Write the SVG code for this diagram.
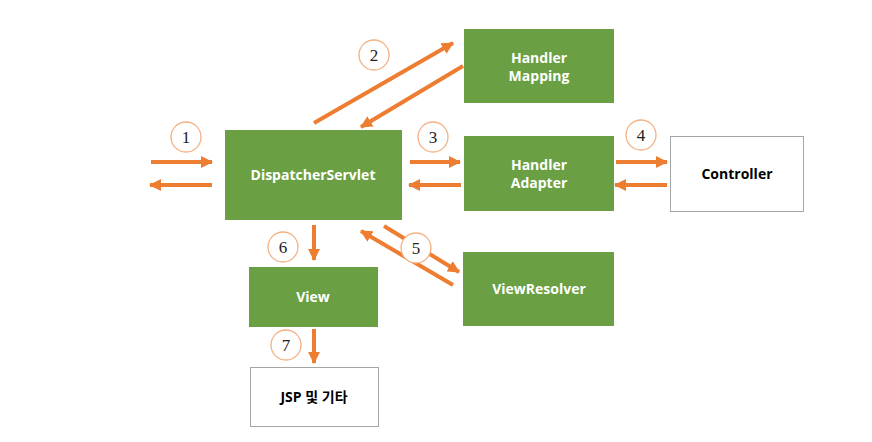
<svg xmlns="http://www.w3.org/2000/svg" width="872" height="442" viewBox="0 0 872 442">
<style>
.g{fill:#6AA043;}
.w{fill:#fff;stroke:#A6A6A6;stroke-width:1;}
.tl{font-family:"Open Sans","Noto Sans CJK KR",sans-serif;font-weight:bold;font-size:14px;fill:#fff;text-anchor:middle;}
.tb{font-family:"Open Sans","Noto Sans CJK KR",sans-serif;font-weight:bold;font-size:14px;fill:#000;text-anchor:middle;}
.c{fill:#fff;stroke:#F4B183;stroke-width:1.3;}
.n{font-family:"Liberation Serif",serif;font-size:17px;fill:#222;text-anchor:middle;}
.a{stroke:#ED7D31;stroke-width:4;fill:none;marker-end:url(#ah);}
</style>
<defs>
<marker id="ah" markerUnits="userSpaceOnUse" markerWidth="12" markerHeight="12" viewBox="0 0 12 12" refX="11" refY="6" orient="auto">
<path d="M0,0 L12,6 L0,12 Z" fill="#ED7D31"/>
</marker>
</defs>
<g id="connectors">
<line class="a" x1="151" y1="162" x2="212" y2="162"/>
<line class="a" x1="212" y1="185" x2="150" y2="185"/>
<line class="a" x1="314" y1="123" x2="453" y2="43"/>
<line class="a" x1="463" y1="66" x2="361" y2="127"/>
<line class="a" x1="410" y1="162" x2="460" y2="162"/>
<line class="a" x1="461" y1="185" x2="409" y2="185"/>
<line class="a" x1="616" y1="162" x2="667" y2="162"/>
<line class="a" x1="667" y1="185" x2="615" y2="185"/>
<line class="a" x1="384" y1="226" x2="459" y2="272"/>
<line class="a" x1="453" y1="285" x2="361" y2="231"/>
<line class="a" x1="314" y1="225" x2="314" y2="260"/>
<line class="a" x1="314" y1="329" x2="314" y2="363"/>
</g>
<g id="label1"><circle class="c" cx="186" cy="137" r="15"/><text class="n" x="186" y="143">1</text></g>
<g id="label2"><circle class="c" cx="374" cy="55" r="15"/><text class="n" x="374" y="61">2</text></g>
<g id="label3"><circle class="c" cx="433" cy="137" r="15"/><text class="n" x="433" y="143">3</text></g>
<g id="label4"><circle class="c" cx="641" cy="135" r="15"/><text class="n" x="641" y="141">4</text></g>
<g id="label5"><circle class="c" cx="416" cy="248" r="15"/><text class="n" x="416" y="254">5</text></g>
<g id="label6"><circle class="c" cx="283" cy="247" r="15"/><text class="n" x="283" y="253">6</text></g>
<g id="label7"><circle class="c" cx="286" cy="345" r="15"/><text class="n" x="286" y="351">7</text></g>
<g id="dispatcher"><rect class="g" x="225" y="130" width="177" height="90"/><text class="tl" x="313" y="180">DispatcherServlet</text></g>
<g id="handlerMapping"><rect class="g" x="464" y="29" width="150" height="74"/><text class="tl" x="539" y="63">Handler</text><text class="tl" x="539" y="81">Mapping</text></g>
<g id="handlerAdapter"><rect class="g" x="464" y="136" width="150" height="75"/><text class="tl" x="539" y="170">Handler</text><text class="tl" x="539" y="188">Adapter</text></g>
<g id="controller"><rect class="w" x="670.5" y="136.5" width="133" height="75"/><text class="tb" x="737" y="179">Controller</text></g>
<g id="view"><rect class="g" x="249" y="267" width="129" height="60"/><text class="tl" x="313" y="302">View</text></g>
<g id="viewResolver"><rect class="g" x="463" y="252" width="151" height="74"/><text class="tl" x="539" y="294">ViewResolver</text></g>
<g id="jsp"><rect class="w" x="250.5" y="367.5" width="128" height="59"/><text class="tb" x="314" y="402">JSP 및 기타</text></g>
</svg>
